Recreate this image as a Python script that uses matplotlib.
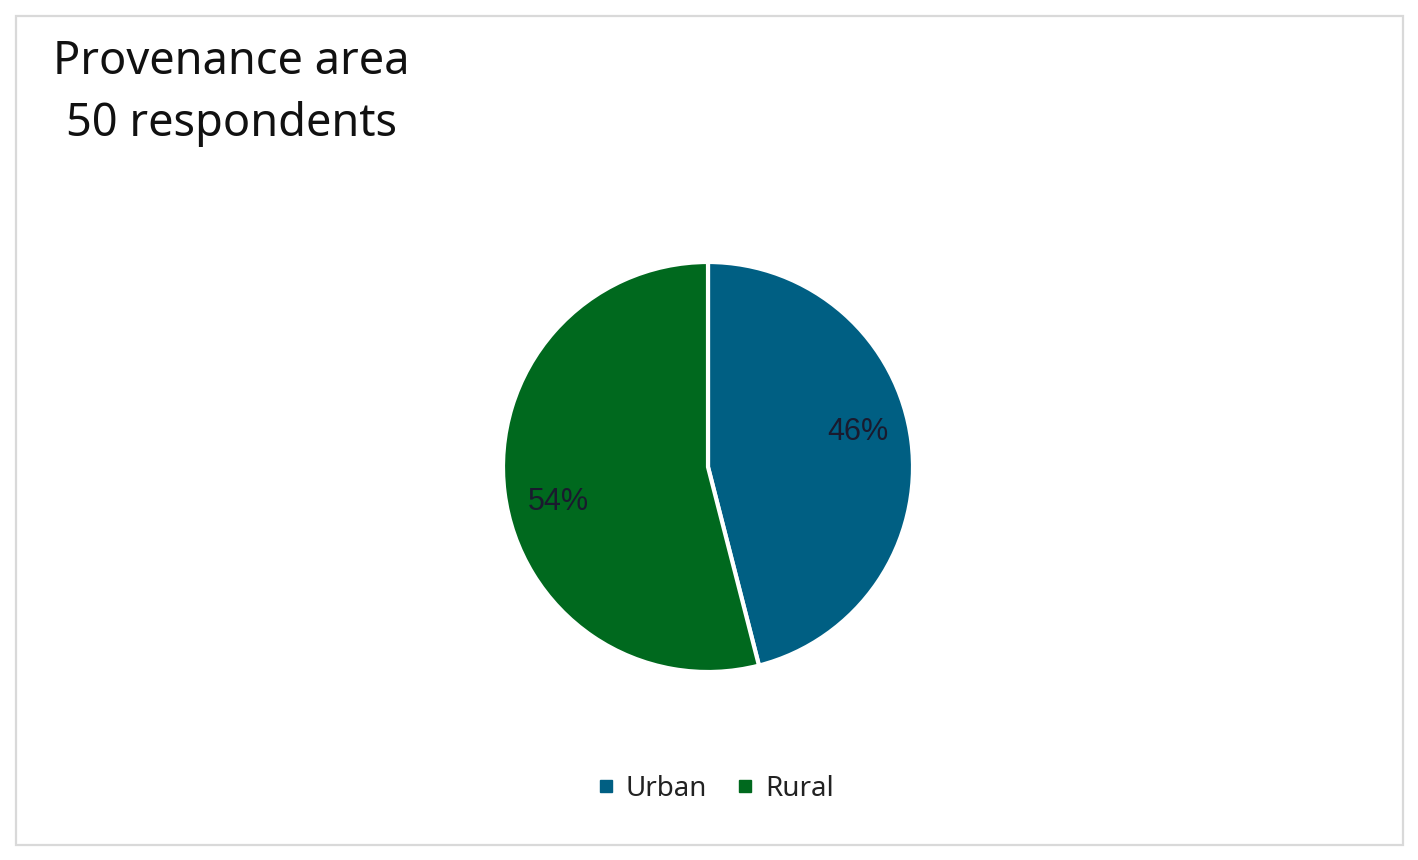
import numpy as np
import matplotlib.pyplot as plt
from matplotlib.patches import Rectangle
from matplotlib.lines import Line2D

# ---------- DATA ----------
categories = ["Urban", "Rural"]
shares = [46, 54]
colors = ["#005f83", "#00691e"]
title_lines = ["Provenance area", "50 respondents"]
# --------------------------

W, H, DPI = 1418, 860, 100
fig = plt.figure(figsize=(W / DPI, H / DPI), dpi=DPI)

# chart frame
fig.patches.append(Rectangle((16 / W, 15 / H), (1403 - 16) / W, (845 - 16) / H,
                             transform=fig.transFigure, fill=False,
                             edgecolor="#d9d9d9", linewidth=1.6))

# pie: centre (708, 467) px, radius 205 px
cx, cy, r = 708, 467, 205
ax = fig.add_axes([(cx - r) / W, (H - cy - r) / H, 2 * r / W, 2 * r / H])
wedges, texts, autotexts = ax.pie(
    shares, colors=colors, startangle=90, counterclock=False,
    autopct="%d%%", pctdistance=0.745,
    wedgeprops=dict(edgecolor="white", linewidth=3),
    textprops=dict(fontsize=22, family="Liberation Sans", color="#1a1a2e"))
ax.set_xlim(-1, 1)
ax.set_ylim(-1, 1)
ax.set_aspect("equal")
for w in wedges:
    w.set_clip_on(False)

# labels sit a little counter-clockwise of the wedge middle, like the original
for w, t in zip(wedges, autotexts):
    ang = np.deg2rad((w.theta1 + w.theta2) / 2 + 6.0)
    t.set_position((0.75 * np.cos(ang), 0.75 * np.sin(ang)))

fig.text(231 / W, 1 - 93 / H, "\n".join(title_lines), ha="center", va="center",
         multialignment="center", fontsize=32.5, family="Noto Sans",
         color="#111111", linespacing=1.45)

handles = [Line2D([], [], marker="s", linestyle="none", markersize=8,
                  markerfacecolor=c, markeredgecolor=c) for c in colors]
fig.legend(handles, categories, loc="center", bbox_to_anchor=(714 / W, 1 - 789 / H),
           ncol=2, frameon=False, handletextpad=0.3,
           columnspacing=1.0, handlelength=0.8,
           prop=dict(family="Noto Sans", size=20))
for t in fig.legends[0].get_texts():
    t.set_color("#222222")

fig.savefig("out.png", dpi=DPI)
